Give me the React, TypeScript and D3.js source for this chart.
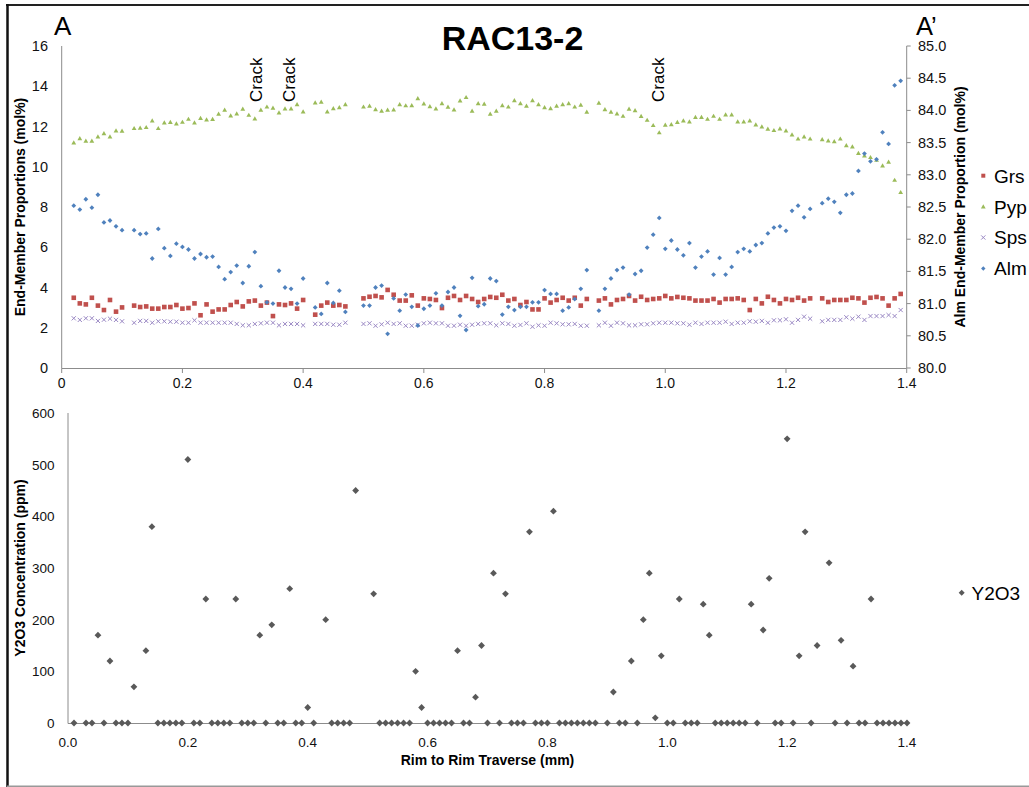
import React from "react";
import * as d3 from "d3";

// ---------- DATA ----------
const distance = [
  0.02, 0.03, 0.04, 0.05, 0.06, 0.07, 0.08, 0.09, 0.1,
  0.12, 0.13, 0.14, 0.15, 0.16, 0.17, 0.18, 0.19, 0.2, 0.21, 0.22, 0.23, 0.24, 0.25, 0.26, 0.27, 0.28, 0.29, 0.3,
  0.31, 0.32, 0.33, 0.34, 0.35, 0.36, 0.37, 0.38, 0.39, 0.4,
  0.42, 0.43, 0.44, 0.45, 0.46, 0.47,
  0.5, 0.51, 0.52, 0.53, 0.54, 0.55, 0.56, 0.57, 0.58, 0.59, 0.6, 0.61, 0.62, 0.63, 0.64, 0.65, 0.66, 0.67, 0.68,
  0.69, 0.7, 0.71, 0.72, 0.73, 0.74, 0.75, 0.76, 0.77, 0.78, 0.79, 0.8, 0.81, 0.82, 0.83, 0.84, 0.85, 0.86, 0.87,
  0.89, 0.9, 0.91, 0.92, 0.93, 0.94, 0.95, 0.96, 0.97, 0.98, 0.99, 1.0, 1.01, 1.02, 1.03, 1.04, 1.05, 1.06, 1.07,
  1.08, 1.09, 1.1, 1.11, 1.12, 1.13, 1.14, 1.15, 1.16, 1.17, 1.18, 1.19, 1.2, 1.21, 1.22, 1.23, 1.24,
  1.26, 1.27, 1.28, 1.29, 1.3, 1.31, 1.32, 1.33, 1.34, 1.35, 1.36, 1.37, 1.38, 1.39,
];

const grs = [
  3.49, 3.21, 3.16, 3.49, 3.1, 2.88, 3.38, 2.8, 3.01,
  3.1, 3.03, 3.06, 2.95, 2.95, 3.03, 3.03, 3.13, 2.95, 2.98, 3.21, 2.62, 3.16, 2.8, 2.91, 2.91, 3.13, 3.28, 3.06,
  3.31, 3.35, 3.1, 3.25, 2.58, 3.16, 3.13, 3.21, 2.95, 3.38,
  2.65, 3.1, 3.25, 3.1, 3.13, 3.06,
  3.46, 3.54, 3.58, 3.51, 3.88, 3.64, 3.35, 3.35, 3.61, 3.1, 3.46, 3.43, 3.38, 2.98, 3.49, 3.58, 3.38, 3.58, 3.43,
  3.28, 3.43, 3.53, 3.49, 3.64, 3.35, 3.43, 3.13, 3.28, 2.91, 2.91, 3.46, 3.25, 3.38, 3.49, 3.35, 3.49, 3.1, 3.43,
  3.35, 3.46, 3.16, 3.38, 3.43, 3.58, 3.35, 3.54, 3.38, 3.43, 3.46, 3.58, 3.46, 3.53, 3.49, 3.46, 3.35, 3.35, 3.35,
  3.43, 3.25, 3.43, 3.43, 3.46, 3.38, 2.88, 3.43, 3.21, 3.54, 3.38, 3.21, 3.43, 3.38, 3.49, 3.35, 3.46,
  3.46, 3.28, 3.38, 3.38, 3.38, 3.49, 3.46, 3.25, 3.49, 3.53, 3.46, 3.1, 3.46, 3.68,
];

const pyp = [
  11.2, 11.41, 11.28, 11.28, 11.49, 11.66, 11.49, 11.79, 11.78,
  11.91, 11.93, 11.96, 12.29, 11.91, 12.19, 12.21, 12.14, 12.22, 12.37, 12.19, 12.41, 12.34, 12.36, 12.62, 12.82, 12.54, 12.64, 12.87,
  12.57, 12.39, 12.82, 12.98, 12.92, 12.69, 12.89, 12.89, 13.1, 12.74,
  13.18, 13.22, 12.74, 12.9, 12.95, 13.1,
  12.98, 13.02, 12.85, 12.77, 12.82, 12.84, 13.1, 13.04, 13.05, 13.4, 13.13, 13.0, 12.89, 13.15, 12.97, 12.84, 13.28, 13.45, 12.77,
  13.15, 13.12, 12.62, 12.77, 13.05, 12.98, 13.3, 13.15, 13.02, 13.3, 13.1, 12.95, 12.9, 13.02, 13.1, 13.15, 12.98, 13.07, 12.72,
  13.17, 12.85, 12.72, 12.64, 12.52, 12.87, 12.8, 12.51, 12.32, 12.06, 11.7, 12.08, 12.1, 12.21, 12.29, 12.24, 12.46, 12.46, 12.37,
  12.52, 12.37, 12.59, 12.59, 12.24, 12.24, 12.29, 12.09, 11.99, 11.88, 11.81, 11.89, 11.79, 11.59, 11.39, 11.49, 11.39,
  11.36, 11.3, 11.26, 11.39, 11.06, 11.0, 10.67, 10.55, 10.47, 10.34, 10.05, 10.24, 9.34, 8.73,
];

const sps = [
  2.47, 2.39, 2.47, 2.47, 2.34, 2.4, 2.45, 2.39, 2.32,
  2.25, 2.34, 2.34, 2.25, 2.32, 2.32, 2.3, 2.3, 2.25, 2.25, 2.37, 2.25, 2.25, 2.25, 2.25, 2.25, 2.25, 2.19, 2.12,
  2.12, 2.19, 2.22, 2.25, 2.25, 2.12, 2.19, 2.19, 2.19, 2.12,
  2.19, 2.19, 2.19, 2.15, 2.15, 2.25,
  2.19, 2.22, 2.1, 2.17, 2.25, 2.19, 2.22, 2.1, 2.1, 2.15, 2.22, 2.25, 2.22, 2.22, 2.1, 2.1, 2.15, 2.1, 2.15,
  2.19, 2.22, 2.22, 2.12, 2.22, 2.19, 2.1, 2.14, 2.22, 2.05, 2.12, 2.1, 2.25, 2.22, 2.17, 2.17, 2.19, 2.1, 2.1,
  2.12, 2.25, 2.1, 2.25, 2.22, 2.12, 2.12, 2.17, 2.17, 2.22, 2.25, 2.25, 2.25, 2.22, 2.22, 2.15, 2.25, 2.19, 2.25,
  2.25, 2.25, 2.3, 2.19, 2.25, 2.25, 2.32, 2.3, 2.34, 2.25, 2.37, 2.37, 2.42, 2.25, 2.39, 2.55, 2.45,
  2.32, 2.39, 2.39, 2.39, 2.52, 2.45, 2.55, 2.39, 2.58, 2.58, 2.58, 2.63, 2.58, 2.88,
];

const alm = [
  82.52, 82.46, 82.62, 82.49, 82.69, 82.26, 82.29, 82.2, 82.14,
  82.14, 82.08, 82.09, 81.7, 82.16, 81.86, 81.74, 81.93, 81.88, 81.84, 81.7, 81.77, 81.72, 81.73, 81.57, 81.38, 81.49, 81.59, 81.32,
  81.58, 81.8, 81.27, 81.02, 81.0, 81.51, 81.25, 81.23, 81.0, 81.39,
  80.94, 80.84, 81.32, 81.01, 81.2, 80.87,
  80.97, 80.97, 81.25, 81.28, 80.53, 81.08, 80.89, 81.14, 80.95, 80.66, 80.92, 80.97, 81.16, 80.97, 81.18, 81.25, 80.81, 80.59, 81.4,
  80.96, 80.99, 81.39, 81.35, 80.83, 80.95, 80.9, 80.95, 80.95, 81.02, 81.02, 81.21, 81.15, 81.15, 80.89, 80.94, 81.07, 81.23, 81.52,
  80.89, 81.23, 81.39, 81.52, 81.56, 81.14, 81.46, 81.51, 81.87, 82.07, 82.33, 81.85, 81.98, 81.84, 81.75, 81.94, 81.56, 81.73, 81.81,
  81.45, 81.71, 81.45, 81.57, 81.8, 81.85, 81.81, 81.91, 81.94, 82.09, 82.18, 82.2, 82.13, 82.44, 82.52, 82.34, 82.47,
  82.56, 82.63, 82.58, 82.41, 82.69, 82.71, 83.06, 83.33, 83.21, 83.24, 83.66, 83.48, 84.39, 84.46,
];

const y2o3Distance = [
  0.01, 0.03, 0.04, 0.05, 0.06, 0.07, 0.08, 0.09, 0.1, 0.11,
  0.13, 0.14, 0.15, 0.16, 0.17, 0.18, 0.19, 0.2, 0.21, 0.22, 0.23, 0.24, 0.25, 0.26, 0.27, 0.28, 0.29, 0.3,
  0.31, 0.32, 0.33, 0.34, 0.35, 0.36, 0.37, 0.38, 0.39, 0.4, 0.41,
  0.43, 0.44, 0.45, 0.46, 0.47, 0.48,
  0.51, 0.52, 0.53, 0.54, 0.55, 0.56, 0.57, 0.58, 0.59, 0.6, 0.61, 0.62, 0.63, 0.64, 0.65, 0.66, 0.67, 0.68, 0.69, 0.7,
  0.71, 0.72, 0.73, 0.74, 0.75, 0.76, 0.77, 0.78, 0.79, 0.8, 0.81, 0.82, 0.83, 0.84, 0.85, 0.86, 0.87, 0.88,
  0.9, 0.91, 0.92, 0.93, 0.94, 0.95, 0.96, 0.97, 0.98, 0.99, 1.0, 1.01, 1.02, 1.03, 1.04, 1.05, 1.06, 1.07,
  1.08, 1.09, 1.1, 1.11, 1.12, 1.13, 1.14, 1.15, 1.16, 1.17, 1.18, 1.19, 1.2, 1.21, 1.22, 1.23, 1.24, 1.25,
  1.27, 1.28, 1.29, 1.3, 1.31, 1.32, 1.33, 1.34, 1.35, 1.36, 1.37, 1.38, 1.39, 1.4,
];

const y2o3 = [
  0, 0, 0, 170, 0, 120, 0, 0, 0, 70,
  140, 380, 0, 0, 0, 0, 0, 510, 0, 0, 240, 0, 0, 0, 0, 240, 0, 0,
  0, 170, 0, 190, 0, 0, 260, 0, 0, 30, 0,
  200, 0, 0, 0, 0, 450,
  250, 0, 0, 0, 0, 0, 0, 100, 30, 0, 0, 0, 0, 0, 140, 0, 0, 50, 150, 0,
  290, 0, 250, 0, 0, 0, 370, 0, 0, 0, 410, 0, 0, 0, 0, 0, 0, 0,
  0, 60, 0, 0, 120, 0, 200, 290, 10, 130, 0, 0, 240, 0, 0, 0, 230, 170,
  0, 0, 0, 0, 0, 0, 230, 0, 180, 280, 0, 0, 550, 0, 130, 370, 0, 150,
  310, 0, 160, 0, 110, 0, 0, 240, 0, 0, 0, 0, 0, 0,
];

const xTicks = [0, 0.2, 0.4, 0.6, 0.8, 1.0, 1.2, 1.4];
const topXTickLabels = ["0", "0.2", "0.4", "0.6", "0.8", "1.0", "1.2", "1.4"];
const botXTickLabels = ["0.0", "0.2", "0.4", "0.6", "0.8", "1.0", "1.2", "1.4"];
const leftTicks = [0, 2, 4, 6, 8, 10, 12, 14, 16];
const rightTicks = [80, 80.5, 81, 81.5, 82, 82.5, 83, 83.5, 84, 84.5, 85];
const botYTicks = [0, 100, 200, 300, 400, 500, 600];
const legendNames = ["Grs", "Pyp", "Sps", "Alm"];
const crackDistance = [0.322, 0.377, 0.988];

// ---------- STYLE ----------
const FONT = "'Liberation Sans', Arial, Helvetica, sans-serif";
const AXIS = "#8c8c8c";
const TXT = "#111";
const C_GRS = "#C0504D";
const C_PYP = "#9BBB59";
const C_SPS = "#9A88C4";
const C_ALM = "#4F81BD";
const C_Y = "#595959";

function Square({ x, y, s = 4.6 }: { x: number; y: number; s?: number }) {
  return <rect x={x - s / 2} y={y - s / 2} width={s} height={s} fill={C_GRS} />;
}
function Tri({ x, y }: { x: number; y: number }) {
  return <path d={`M${x},${y - 2.4}L${x + 2.4},${y + 1.8}L${x - 2.4},${y + 1.8}Z`} fill={C_PYP} />;
}
function Cross({ x, y }: { x: number; y: number }) {
  const r = 2.1;
  return (
    <path
      d={`M${x - r},${y - r}L${x + r},${y + r}M${x - r},${y + r}L${x + r},${y - r}`}
      stroke={C_SPS}
      strokeWidth={1}
      fill="none"
    />
  );
}
function Diamond({ x, y, r, color }: { x: number; y: number; r: number; color: string }) {
  return <path d={`M${x},${y - r}L${x + r},${y}L${x},${y + r}L${x - r},${y}Z`} fill={color} />;
}

export default function App() {
  const xT = d3.scaleLinear().domain([0, 1.4]).range([61.7, 906.7]);
  const yL = d3.scaleLinear().domain([0, 16]).range([368, 46]);
  const yR = d3.scaleLinear().domain([80, 85]).range([368, 46]);
  const xB = d3.scaleLinear().domain([0, 1.4]).range([68, 907]);
  const yB = d3.scaleLinear().domain([0, 600]).range([723, 413]);

  const legendY = [175.7, 206.7, 237.5, 268.5];

  return (
    <svg
      width={1029}
      height={787}
      style={{ position: "absolute", left: 0, top: 0, background: "#fff" }}
      fontFamily={FONT}
    >
      <rect x={0} y={0} width={1029} height={787} fill="#fff" />
      {/* frame */}
      <line x1={6} y1={5} x2={1029} y2={5} stroke="#222" strokeWidth={2} />
      <line x1={7.5} y1={4} x2={7.5} y2={787} stroke="#111" strokeWidth={2.5} />
      <line x1={7} y1={786.2} x2={1029} y2={786.2} stroke="#999" strokeWidth={1.5} />

      {/* title & labels */}
      <text x={512.5} y={50} textAnchor="middle" fontSize={34} fontWeight="bold" fill="#000">
        RAC13-2
      </text>
      <text x={54} y={35} fontSize={26} fill="#000">A</text>
      <text x={916} y={34.5} fontSize={25.5} fill="#000">A’</text>

      {/* ---------- TOP CHART ---------- */}
      <line x1={xT(0)} y1={46} x2={xT(0)} y2={368.5} stroke={AXIS} />
      <line x1={xT(1.4)} y1={46} x2={xT(1.4)} y2={368.5} stroke={AXIS} />
      <line x1={xT(0)} y1={368.5} x2={xT(1.4)} y2={368.5} stroke={AXIS} />
      {xTicks.map((t, i) => (
        <g key={"xt" + i}>
          <line x1={xT(t)} x2={xT(t)} y1={368.5} y2={373} stroke={AXIS} />
          <text x={xT(t)} y={388} textAnchor="middle" fontSize={14} fill={TXT}>
            {topXTickLabels[i]}
          </text>
        </g>
      ))}
      {leftTicks.map((t) => (
        <text key={"lt" + t} x={48} y={yL(t) + 5} textAnchor="end" fontSize={14.5} fill={TXT}>
          {t}
        </text>
      ))}
      {rightTicks.map((t) => (
        <g key={"rt" + t}>
          <line x1={xT(1.4)} x2={xT(1.4) + 4} y1={yR(t)} y2={yR(t)} stroke={AXIS} />
          <text x={918} y={yR(t) + 5} fontSize={14.5} fill={TXT}>
            {t.toFixed(1)}
          </text>
        </g>
      ))}
      <text
        transform={`translate(25,207) rotate(-90)`}
        textAnchor="middle"
        fontSize={14}
        fontWeight="bold"
        fill="#000"
      >
        End-Member Proportions (mol%)
      </text>
      <text
        transform={`translate(965,207) rotate(-90)`}
        textAnchor="middle"
        fontSize={14}
        fontWeight="bold"
        fill="#000"
      >
        Alm End-Member Proportion (mol%)
      </text>

      {crackDistance.map((c, i) => (
        <text
          key={"ck" + i}
          transform={`translate(${xT(c) + 6},102) rotate(-90)`}
          fontSize={17}
          fill="#000"
        >
          Crack
        </text>
      ))}

      {/* series */}
      <g>
        {distance.map((d, i) => (
          <Cross key={"s" + i} x={xT(d)} y={yL(sps[i])} />
        ))}
        {distance.map((d, i) => (
          <Square key={"g" + i} x={xT(d)} y={yL(grs[i])} />
        ))}
        {distance.map((d, i) => (
          <Tri key={"p" + i} x={xT(d)} y={yL(pyp[i])} />
        ))}
        {distance.map((d, i) => (
          <Diamond key={"a" + i} x={xT(d)} y={yR(alm[i])} r={2.4} color={C_ALM} />
        ))}
      </g>

      {/* legend top */}
      {legendNames.map((n, i) => {
        const ly = legendY[i];
        const mx = 983.3;
        return (
          <g key={"lg" + n}>
            {n === "Grs" && <Square x={mx} y={ly} s={4} />}
            {n === "Pyp" && <Tri x={mx} y={ly} />}
            {n === "Sps" && <Cross x={mx} y={ly} />}
            {n === "Alm" && <Diamond x={mx} y={ly} r={2.2} color={C_ALM} />}
            <text x={994} y={ly + 6.8} fontSize={19} fill="#000">
              {n}
            </text>
          </g>
        );
      })}

      {/* ---------- BOTTOM CHART ---------- */}
      <line x1={xB(0)} y1={413} x2={xB(0)} y2={723.5} stroke={AXIS} />
      <line x1={xB(0)} y1={723.5} x2={xB(1.4)} y2={723.5} stroke={AXIS} />
      {botYTicks.map((t) => (
        <text key={"by" + t} x={54.5} y={yB(t) + 5} textAnchor="end" fontSize={13.5} fill={TXT}>
          {t}
        </text>
      ))}
      {xTicks.map((t, i) => (
        <text key={"bx" + i} x={xB(t)} y={746.5} textAnchor="middle" fontSize={13.5} fill={TXT}>
          {botXTickLabels[i]}
        </text>
      ))}
      <text
        transform={`translate(25,568) rotate(-90)`}
        textAnchor="middle"
        fontSize={14}
        fontWeight="bold"
        fill="#000"
      >
        Y2O3 Concentration (ppm)
      </text>
      <text x={487.5} y={765} textAnchor="middle" fontSize={14} fontWeight="bold" fill="#000">
        Rim to Rim Traverse (mm)
      </text>
      {y2o3Distance.map((d, i) => (
        <Diamond key={"y" + i} x={xB(d)} y={yB(y2o3[i])} r={3.4} color={C_Y} />
      ))}
      <Diamond x={961.7} y={592.7} r={3} color={C_Y} />
      <text x={971.5} y={599.5} fontSize={19} fill="#000">
        Y2O3
      </text>
    </svg>
  );
}
